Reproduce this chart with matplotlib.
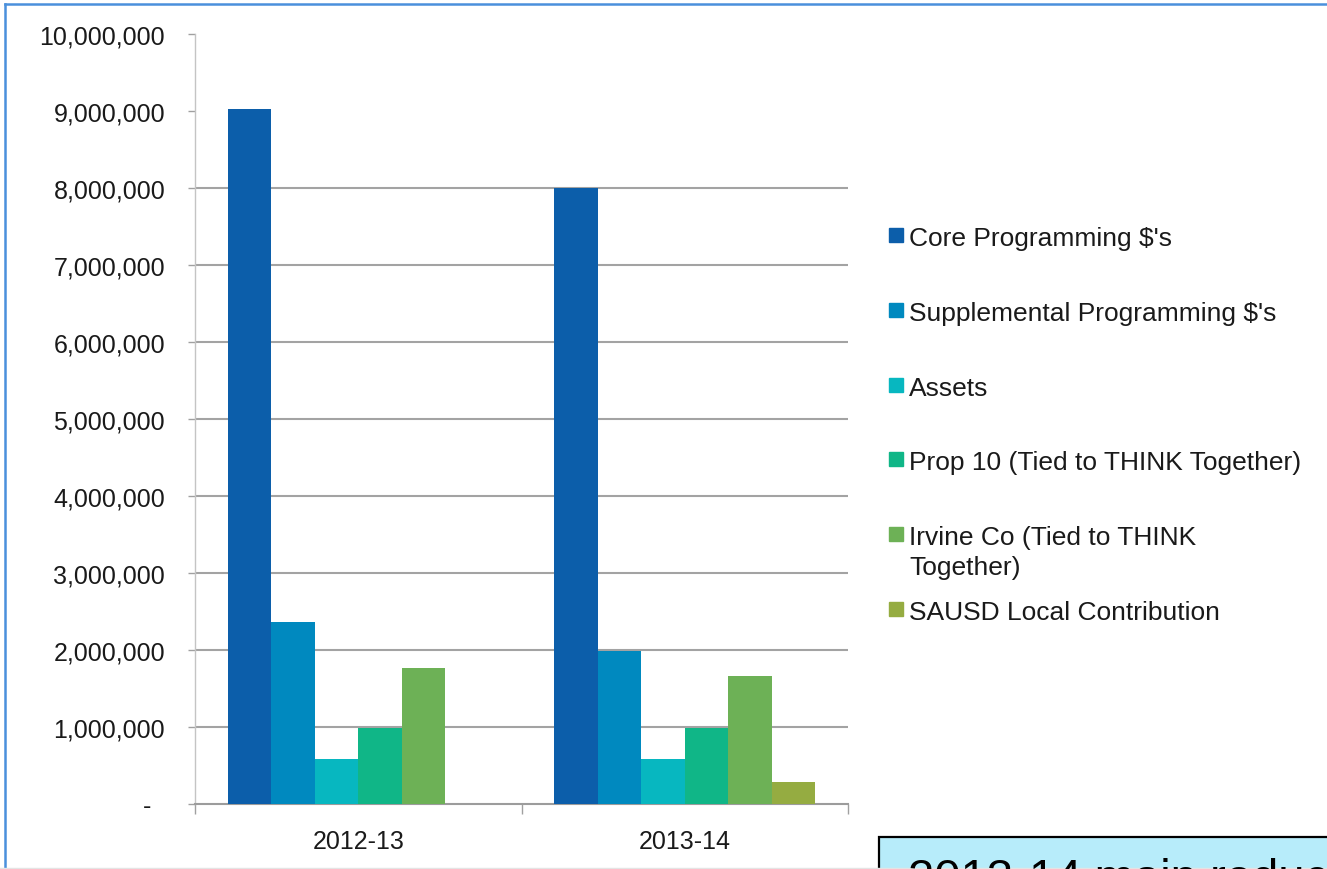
import matplotlib
matplotlib.use("Agg")
import matplotlib.pyplot as plt
from matplotlib.patches import Rectangle
from matplotlib.lines import Line2D
import numpy as np

plt.rcParams['font.family'] = ['Liberation Sans', 'DejaVu Sans']

# data
years = ["2012-13", "2013-14"]
series = [
    "Core Programming $'s",
    "Supplemental Programming $'s",
    "Assets",
    "Prop 10 (Tied to THINK Together)",
    "Irvine Co (Tied to THINK\nTogether)",
    "SAUSD Local Contribution",
]
core = [9020000, 8000000]
supplemental = [2370000, 1990000]
assets = [590000, 590000]
prop10 = [990000, 990000]
irvine = [1770000, 1660000]
sausd = [0, 290000]
values = [core, supplemental, assets, prop10, irvine, sausd]
colors = ["#0C5EAA", "#0089BF", "#07B7C0", "#10B687", "#6DB156", "#95AC41"]

yticks = np.arange(0, 10000001, 1000000)
ytick_labels = ["-  "] + [f"{v:,}" for v in yticks[1:]]

W, H = 1327, 870
fig = plt.figure(figsize=(W / 100, H / 100), dpi=100)
ax = fig.add_axes([195 / W, 1 - 805 / H, (848 - 195) / W, (805 - 35) / H])

# clustered bars, Excel style (gap width 150%)
n = len(series)
w = 1 / (n + 1.5)
x = np.arange(len(years))
for i, (vals, c) in enumerate(zip(values, colors)):
    ax.bar(x + (i - (n - 1) / 2) * w, vals, width=w, color=c, zorder=3)

ax.set_xlim(-0.5, len(years) - 0.5)
ax.set_ylim(0, 10000000)
ax.set_yticks(yticks)
ax.set_yticklabels(ytick_labels)
ax.set_xticks(x)
ax.set_xticklabels(years)
ax.set_xticks(np.arange(-0.5, len(years), 1), minor=True)

ax.tick_params(axis="y", length=5, width=1, color="#A0A0A0", pad=16.5,
               labelsize=18, labelcolor="#1a1a1a")
ax.tick_params(axis="x", which="major", length=0, pad=18, labelsize=18,
               labelcolor="#1a1a1a")
ax.tick_params(axis="x", which="minor", length=7, width=1, color="#A0A0A0")

ax.yaxis.grid(True, color="#A3A3A3", linewidth=1.5, zorder=0)
# the top two gridlines are not shown in the original
for gl in ax.get_ygridlines()[-2:]:
    gl.set_visible(False)
ax.get_ygridlines()[0].set_visible(False)

for s in ["top", "right"]:
    ax.spines[s].set_visible(False)
ax.spines["left"].set_color("#C4C4C4")
ax.spines["left"].set_linewidth(1)
ax.spines["bottom"].set_color("#9C9C9C")
ax.spines["bottom"].set_linewidth(1.5)

# legend drawn by hand so the wrapped entry keeps its square on the first line
base0, step = 246, 74.8
for i, (name, c) in enumerate(zip(series, colors)):
    by = base0 + i * step
    fig.add_artist(Rectangle((889 / W, 1 - (by - 3) / H), 14 / W, 14 / H,
                             transform=fig.transFigure, color=c))
    for k, line in enumerate(name.split("\n")):
        fig.text(909 / W, 1 - (by + k * 30) / H, line, fontsize=19,
                 va="baseline", ha="left", color="#1a1a1a")

# frame around the slide chart
fig.add_artist(Line2D([5 / W, 1], [1 - 5 / H, 1 - 5 / H], color="#4A90DC",
                      linewidth=1.8, transform=fig.transFigure))
fig.add_artist(Line2D([5 / W, 5 / W], [0, 1 - 5 / H], color="#4A90DC",
                      linewidth=1.8, transform=fig.transFigure))
fig.add_artist(Line2D([0, 1], [0.6 / H, 0.6 / H], color="#E4E4E4",
                      linewidth=1, transform=fig.transFigure))

# callout box, cut off at the bottom of the picture
fig.add_artist(Rectangle((879 / W, -0.05), 0.5, 0.05 + (870 - 838) / H,
                         transform=fig.transFigure, facecolor="#B7ECFA",
                         edgecolor="black", linewidth=1.6))
fig.text(908 / W, 1 - 892 / H, "2013-14 main reductions", fontsize=34,
         va="baseline", ha="left", color="black")

plt.savefig("out.png", dpi=100)
